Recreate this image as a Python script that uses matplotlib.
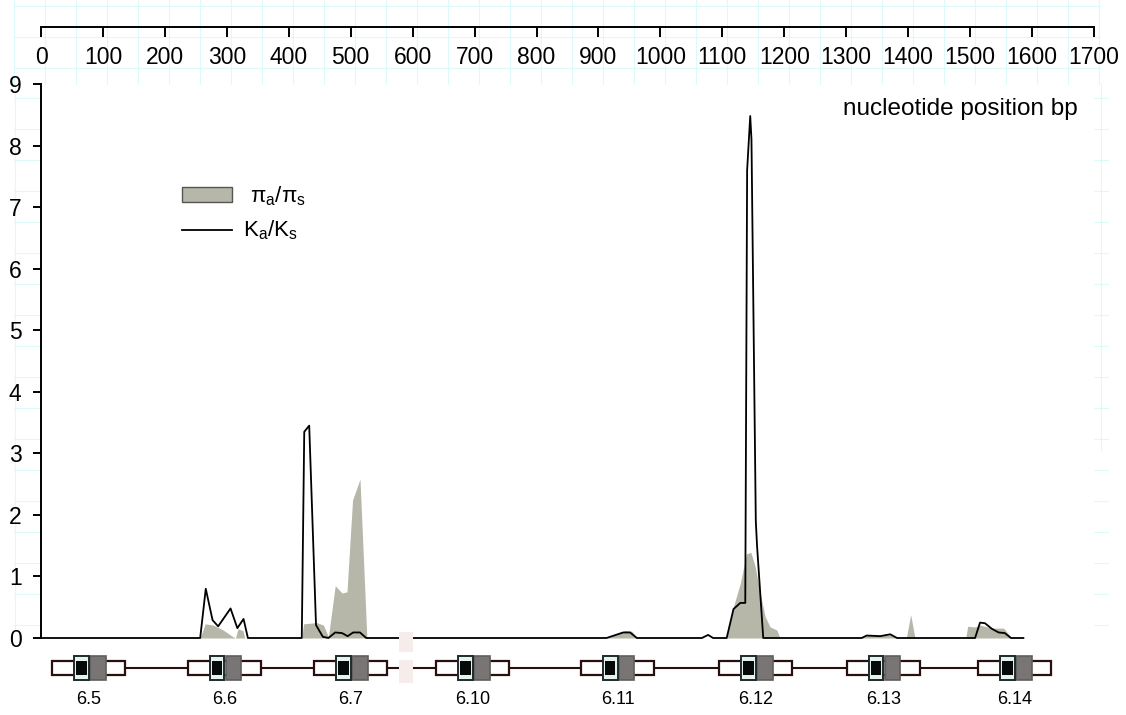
import matplotlib
matplotlib.use('Agg')
import matplotlib.pyplot as plt
from matplotlib.patches import Rectangle

plt.rcParams['font.family'] = ['Liberation Sans', 'DejaVu Sans']

# ---------------- data ----------------
ka_ks_pos = [0, 257, 266, 277, 286, 306, 317, 327, 334, 421, 425, 433, 444, 455, 464,
             475, 486, 495, 504, 515, 525, 913, 940, 951, 962, 1067, 1077, 1085, 1107,
             1118, 1129, 1137, 1140, 1145, 1147, 1154, 1156, 1166, 1325, 1333, 1355,
             1371, 1382, 1508, 1516, 1524, 1535, 1546, 1556, 1566, 1586]
ka_ks_val = [0, 0, 0.80, 0.29, 0.19, 0.48, 0.16, 0.31, 0, 0, 3.35, 3.45, 0.21, 0.02, 0,
             0.09, 0.08, 0.03, 0.09, 0.09, 0, 0, 0.09, 0.09, 0, 0, 0.05, 0, 0,
             0.47, 0.57, 0.57, 7.6, 8.48, 8.1, 1.9, 1.5, 0, 0, 0.04, 0.03,
             0.06, 0, 0, 0.25, 0.24, 0.15, 0.09, 0.08, 0, 0]

pi_pos = [0, 257, 265, 278, 294, 310, 314, 318, 326, 329, 421, 424, 445, 456, 464, 475,
          486, 494, 503, 515, 526, 527, 913, 943, 954, 962, 1107, 1118, 1129, 1139, 1146,
          1153, 1161, 1169, 1177, 1188, 1193, 1325, 1335, 1371, 1381, 1397, 1404, 1411,
          1493, 1496, 1508, 1516, 1535, 1554, 1559, 1567, 1586]
pi_val = [0, 0, 0.23, 0.21, 0.13, 0.02, 0, 0.15, 0.12, 0, 0, 0.23, 0.25, 0.21, 0.02, 0.85,
          0.73, 0.75, 2.24, 2.58, 0.02, 0, 0, 0.12, 0.11, 0, 0, 0.51, 0.89, 1.37, 1.39,
          1.16, 0.73, 0.35, 0.18, 0.13, 0, 0, 0.04, 0.05, 0, 0, 0.38, 0,
          0, 0.19, 0.18, 0.21, 0.16, 0.16, 0.10, 0, 0]

top_ticks = list(range(0, 1701, 100))
y_ticks = list(range(0, 10))
gene_labels = ['6.5', '6.6', '6.7', '6.10', '6.11', '6.12', '6.13', '6.14']
gene_centers = [77, 296, 500, 697, 931, 1154, 1360, 1572]

W, H = 1126, 715
fig = plt.figure(figsize=(W / 100, H / 100), dpi=100)
fig.patch.set_facecolor('white')

def fx(px):
    return px / W

def fy(py):
    return 1 - py / H

x0, x1 = 41, 1094
# faint background grid (graph paper look)
grid_col = '#dcfafa'
for gx in range(14, 1110, 31):
    fig.add_artist(plt.Line2D([fx(gx), fx(gx)], [fy(0), fy(84)], color=grid_col, lw=0.8, zorder=0))
for gy in range(6, 84, 31):
    fig.add_artist(plt.Line2D([fx(14), fx(1100)], [fy(gy), fy(gy)], color=grid_col, lw=0.8, zorder=0))
for gy in range(98, 640, 31):
    fig.add_artist(plt.Line2D([fx(14), fx(41)], [fy(gy), fy(gy)], color=grid_col, lw=0.8, zorder=0))
    fig.add_artist(plt.Line2D([fx(1094), fx(1108)], [fy(gy), fy(gy)], color=grid_col, lw=0.8, zorder=0))
fig.add_artist(plt.Line2D([fx(15), fx(15)], [fy(84), fy(630)], color=grid_col, lw=0.8, zorder=0))
fig.add_artist(plt.Line2D([fx(1101), fx(1101)], [fy(84), fy(450)], color=grid_col, lw=0.8, zorder=0))

# ---------------- main axes ----------------
ax = fig.add_axes([fx(x0), fy(638), fx(x1) - fx(x0), fy(84) - fy(638)])
ax.set_xlim(0, 1700)
ax.set_ylim(0, 9)
ax.fill_between(pi_pos, pi_val, 0, color='#b6b6a9', lw=0, zorder=2)
ax.plot(ka_ks_pos, ka_ks_val, color='black', lw=1.3, zorder=3, clip_on=False)
for s in ['top', 'right', 'bottom']:
    ax.spines[s].set_visible(False)
ax.spines['left'].set_linewidth(1.4)
ax.set_xticks([])
ax.set_yticks(y_ticks)
ax.set_yticklabels([str(t) for t in y_ticks])
ax.tick_params(axis='y', direction='out', length=6, width=1.4, pad=8, labelsize=16.5)
ax.patch.set_alpha(0)

ax.text(0.985, 0.955, 'nucleotide position bp', transform=ax.transAxes,
        ha='right', va='center', fontsize=17.5)

# legend (manual)
leg_patch = Rectangle((fx(182), fy(202)), fx(232) - fx(182), fy(187) - fy(202),
                      transform=fig.transFigure, facecolor='#b6b6a9',
                      edgecolor='#555555', lw=1.0)
fig.add_artist(leg_patch)
fig.add_artist(plt.Line2D([fx(182), fx(232)], [fy(230), fy(230)], color='black', lw=1.3))
fig.text(fx(250), fy(196), r'π$_\mathregular{a}$/π$_\mathregular{s}$', fontsize=16,
         ha='left', va='center')
fig.text(fx(243), fy(230), r'K$_\mathregular{a}$/K$_\mathregular{s}$', fontsize=16,
         ha='left', va='center')

# ---------------- top axis ----------------
axt = fig.add_axes([fx(x0), fy(27), fx(x1) - fx(x0), 0.0001])
axt.set_xlim(0, 1700)
axt.set_yticks([])
for s in ['top', 'right', 'left']:
    axt.spines[s].set_visible(False)
axt.spines['bottom'].set_linewidth(1.4)
axt.set_xticks(top_ticks)
axt.set_xticklabels([str(t) for t in top_ticks])
axt.tick_params(axis='x', direction='out', length=7, width=1.4, pad=7, labelsize=16.5)
axt.patch.set_alpha(0)

# ---------------- gene diagram ----------------
axg = fig.add_axes([fx(x0), fy(715), fx(x1) - fx(x0), fy(645) - fy(715)])
axg.set_xlim(0, 1700)
axg.set_ylim(70, 0)  # pixel-like units measured from y=645
axg.axis('off')
bw = 118  # box width in bp
edge = '#2a0f0f'
axg.plot([gene_centers[0] + bw / 2, gene_centers[-1] - bw / 2], [23, 23], color=edge, lw=1.5, zorder=1)
for c, lab in zip(gene_centers, gene_labels):
    left = c - bw / 2
    axg.add_patch(Rectangle((left, 16), bw, 14, facecolor='white', edgecolor=edge, lw=1.6, zorder=2))
    # dark gray block
    axg.add_patch(Rectangle((left + 0.52 * bw, 11), 0.21 * bw, 24, facecolor='#7a7575',
                            edgecolor='#5f5f5f', lw=1.2, zorder=3))
    # light block with black core
    axg.add_patch(Rectangle((left + 0.30 * bw, 11), 0.20 * bw, 24, facecolor='#e6f2f0',
                            edgecolor='#1f2a2a', lw=1.4, zorder=4))
    axg.add_patch(Rectangle((left + 0.33 * bw, 16), 0.14 * bw, 14, facecolor='#050a08',
                            edgecolor='none', zorder=5))
    axg.text(c, 55, lab, ha='center', va='center', fontsize=13)

# pale patch between 6.7 and 6.10
axg.add_patch(Rectangle((589 - 11, -13), 22, 20, facecolor='#f6ecec', edgecolor='none', zorder=6,
                        clip_on=False))
axg.add_patch(Rectangle((589 - 11, 15), 22, 23, facecolor='#f6ecec', edgecolor='none', zorder=6,
                        clip_on=False))

fig.savefig('out.png', dpi=100, facecolor='white')
